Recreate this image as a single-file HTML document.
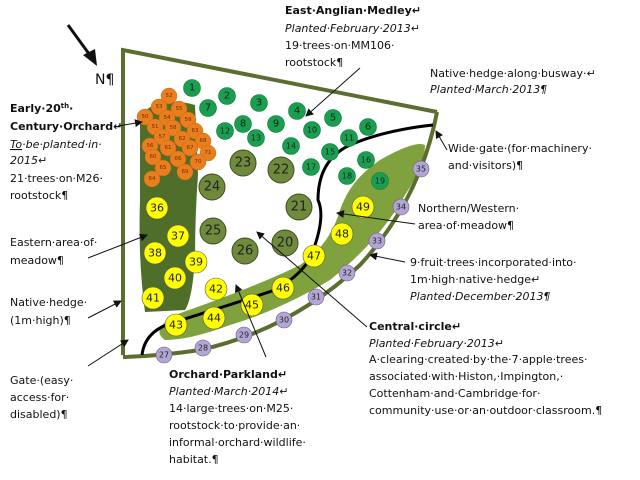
<!DOCTYPE html>
<html><head><meta charset="utf-8"><style>
html,body{margin:0;padding:0;background:#fff;}
svg{display:block;}
text{font-family:"DejaVu Sans","Liberation Sans",sans-serif;font-size:11px;fill:#111;}
.b{font-weight:bold;}
.i{font-style:italic;}
.n{font-size:11px;text-anchor:middle;dominant-baseline:central;fill:#222;}
.o{font-size:5.5px;text-anchor:middle;dominant-baseline:central;fill:#7a2a00;}
</style></head><body>
<svg width="640" height="480" viewBox="0 0 640 480" xmlns="http://www.w3.org/2000/svg">
<defs><marker id="a" markerWidth="8" markerHeight="8" refX="7" refY="4" orient="auto" markerUnits="userSpaceOnUse"><path d="M0,0 L8,4 L0,8 z" fill="#111"/></marker></defs>
<line x1="68" y1="25" x2="92" y2="58" stroke="#111" stroke-width="3"/>
<path d="M97,66 L83,55 L95,49 z" fill="#111"/>
<text x="95" y="84" style="font-size:14px">N¶</text>
<path d="M140,115 Q160,95 195,105 L198,175 Q195,215 195,260 Q192,300 185,310 L145,312 Q138,260 140,200 Z" fill="#4f6e2a"/>
<path d="M165,340 Q150,330 175,315 Q260,285 300,265 Q330,245 340,210 Q350,180 380,160 Q415,140 425,145 Q425,165 405,195 Q380,240 330,280 Q280,310 230,325 Q190,340 165,340 Z" fill="#7fa23e"/>
<path d="M123,355 L123,50 L437,112" fill="none" stroke="#5b6e2f" stroke-width="4"/>
<path d="M437,112 Q420,200 360,265 Q290,330 200,350 Q160,356 123,357" fill="none" stroke="#5b6e2f" stroke-width="4"/>
<path d="M142,355 Q145,330 175,322 Q230,305 275,290 Q310,270 315,245 Q325,215 318,200 Q318,160 350,145 Q385,130 433,125" fill="none" stroke="#000" stroke-width="3"/>
<g fill="#e87e1e" stroke="#d06810" stroke-width="0.5">
<circle cx="169" cy="96" r="8"/><circle cx="159" cy="107" r="8"/><circle cx="179" cy="109" r="8"/><circle cx="145" cy="117" r="8"/><circle cx="167" cy="118" r="8"/><circle cx="188" cy="120" r="8"/><circle cx="155" cy="127" r="8"/><circle cx="173" cy="128" r="8"/><circle cx="195" cy="131" r="8"/><circle cx="162" cy="137" r="8"/><circle cx="182" cy="139" r="8"/><circle cx="203" cy="141" r="8"/><circle cx="150" cy="146" r="8"/><circle cx="168" cy="148" r="8"/><circle cx="190" cy="148" r="8"/><circle cx="208" cy="153" r="8"/><circle cx="153" cy="157" r="8"/><circle cx="178" cy="159" r="8"/><circle cx="198" cy="162" r="8"/><circle cx="163" cy="168" r="8"/><circle cx="185" cy="172" r="8"/><circle cx="152" cy="179" r="8"/>
</g>
<g>
<text class="o" x="169" y="96">52</text><text class="o" x="159" y="107">53</text><text class="o" x="179" y="109">55</text><text class="o" x="145" y="117">50</text><text class="o" x="167" y="118">54</text><text class="o" x="188" y="120">59</text><text class="o" x="155" y="127">51</text><text class="o" x="173" y="128">58</text><text class="o" x="195" y="131">63</text><text class="o" x="162" y="137">57</text><text class="o" x="182" y="139">62</text><text class="o" x="203" y="141">68</text><text class="o" x="150" y="146">56</text><text class="o" x="168" y="148">61</text><text class="o" x="190" y="148">67</text><text class="o" x="208" y="153">71</text><text class="o" x="153" y="157">60</text><text class="o" x="178" y="159">66</text><text class="o" x="198" y="162">70</text><text class="o" x="163" y="168">65</text><text class="o" x="185" y="172">69</text><text class="o" x="152" y="179">64</text>
</g>
<g fill="#1a9e50" stroke="#0f7a3a" stroke-width="0.6">
<circle cx="192" cy="88" r="8.5"/><circle cx="227" cy="96" r="8.5"/><circle cx="208" cy="108" r="8.5"/><circle cx="259" cy="103" r="8.5"/><circle cx="243" cy="124" r="8.5"/><circle cx="225" cy="131" r="8.5"/><circle cx="297" cy="111" r="8.5"/><circle cx="276" cy="124" r="8.5"/><circle cx="256" cy="138" r="8.5"/><circle cx="333" cy="118" r="8.5"/><circle cx="312" cy="130" r="8.5"/><circle cx="291" cy="146" r="8.5"/><circle cx="368" cy="127" r="8.5"/><circle cx="349" cy="138" r="8.5"/><circle cx="330" cy="152" r="8.5"/><circle cx="311" cy="167" r="8.5"/><circle cx="366" cy="160" r="8.5"/><circle cx="347" cy="176" r="8.5"/><circle cx="380" cy="181" r="8.5"/>
</g>
<g>
<text class="n" x="192" y="88" style="font-size:10px">1</text><text class="n" x="227" y="96" style="font-size:10px">2</text><text class="n" x="208" y="108" style="font-size:10px">7</text><text class="n" x="259" y="103" style="font-size:10px">3</text><text class="n" x="243" y="124" style="font-size:10px">8</text><text class="n" x="225" y="131" style="font-size:8px">12</text><text class="n" x="297" y="111" style="font-size:10px">4</text><text class="n" x="276" y="124" style="font-size:10px">9</text><text class="n" x="256" y="138" style="font-size:8px">13</text><text class="n" x="333" y="118" style="font-size:10px">5</text><text class="n" x="312" y="130" style="font-size:8px">10</text><text class="n" x="291" y="146" style="font-size:8px">14</text><text class="n" x="368" y="127" style="font-size:10px">6</text><text class="n" x="349" y="138" style="font-size:8px">11</text><text class="n" x="330" y="152" style="font-size:8px">15</text><text class="n" x="311" y="167" style="font-size:8px">17</text><text class="n" x="366" y="160" style="font-size:8px">16</text><text class="n" x="347" y="176" style="font-size:8px">18</text><text class="n" x="380" y="181" style="font-size:8px">19</text>
</g>
<g fill="#6f8a3c" stroke="#3e5020" stroke-width="1">
<circle cx="243" cy="163" r="13"/><circle cx="281" cy="170" r="13"/><circle cx="212" cy="187" r="13"/><circle cx="299" cy="207" r="13"/><circle cx="213" cy="231" r="13"/><circle cx="245" cy="251" r="13"/><circle cx="285" cy="243" r="13"/>
</g>
<g>
<text class="n" x="243" y="163" style="font-size:13px">23</text><text class="n" x="281" y="170" style="font-size:13px">22</text><text class="n" x="212" y="187" style="font-size:13px">24</text><text class="n" x="299" y="207" style="font-size:13px">21</text><text class="n" x="213" y="231" style="font-size:13px">25</text><text class="n" x="245" y="251" style="font-size:13px">26</text><text class="n" x="285" y="243" style="font-size:13px">20</text>
</g>
<g fill="#ffff00" stroke="#555" stroke-width="0.6">
<circle cx="157" cy="208" r="11"/><circle cx="178" cy="236" r="11"/><circle cx="155" cy="253" r="11"/><circle cx="196" cy="262" r="11"/><circle cx="175" cy="278" r="11"/><circle cx="153" cy="298" r="11"/><circle cx="176" cy="325" r="11"/><circle cx="216" cy="289" r="11"/><circle cx="214" cy="318" r="11"/><circle cx="252" cy="305" r="11"/><circle cx="283" cy="288" r="11"/><circle cx="314" cy="256" r="11"/><circle cx="342" cy="234" r="11"/><circle cx="363" cy="207" r="11"/>
</g>
<g>
<text class="n" x="157" y="208">36</text><text class="n" x="178" y="236">37</text><text class="n" x="155" y="253">38</text><text class="n" x="196" y="262">39</text><text class="n" x="175" y="278">40</text><text class="n" x="153" y="298">41</text><text class="n" x="176" y="325">43</text><text class="n" x="216" y="289">42</text><text class="n" x="214" y="318">44</text><text class="n" x="252" y="305">45</text><text class="n" x="283" y="288">46</text><text class="n" x="314" y="256">47</text><text class="n" x="342" y="234">48</text><text class="n" x="363" y="207">49</text>
</g>
<g fill="#b4a6d4" stroke="#6a5a8a" stroke-width="0.6">
<circle cx="421" cy="169" r="8"/><circle cx="401" cy="207" r="8"/><circle cx="377" cy="241" r="8"/><circle cx="347" cy="273" r="8"/><circle cx="316" cy="297" r="8"/><circle cx="284" cy="320" r="8"/><circle cx="244" cy="335" r="8"/><circle cx="203" cy="348" r="8"/><circle cx="164" cy="355" r="8"/>
</g>
<g>
<text class="n" x="421" y="169" style="font-size:8px">35</text><text class="n" x="401" y="207" style="font-size:8px">34</text><text class="n" x="377" y="241" style="font-size:8px">33</text><text class="n" x="347" y="273" style="font-size:8px">32</text><text class="n" x="316" y="297" style="font-size:8px">31</text><text class="n" x="284" y="320" style="font-size:8px">30</text><text class="n" x="244" y="335" style="font-size:8px">29</text><text class="n" x="203" y="348" style="font-size:8px">28</text><text class="n" x="164" y="355" style="font-size:8px">27</text>
</g>
<g stroke="#111" stroke-width="1" fill="none" marker-end="url(#a)">
<line x1="360" y1="68" x2="306" y2="116"/>
<line x1="118" y1="126" x2="142" y2="122"/>
<line x1="88" y1="258" x2="147" y2="235"/>
<line x1="88" y1="318" x2="121" y2="301"/>
<line x1="88" y1="366" x2="128" y2="340"/>
<line x1="447" y1="150" x2="436" y2="131"/>
<line x1="415" y1="224" x2="337" y2="213"/>
<line x1="405" y1="262" x2="370" y2="255"/>
<line x1="367" y1="327" x2="257" y2="232"/>
<line x1="266" y1="357" x2="236" y2="285"/>
</g>
<text class="b" x="285" y="14">East·Anglian·Medley↵</text>
<text class="i" x="285" y="32">Planted·February·2013↵</text>
<text x="285" y="49">19·trees·on·MM106·</text>
<text x="285" y="66">rootstock¶</text>
<text class="b" x="10" y="112">Early·20<tspan style="font-size:7px" dy="-4">th</tspan><tspan dy="4">·</tspan></text>
<text class="b" x="10" y="130">Century·Orchard↵</text>
<text class="i" x="10" y="148"><tspan text-decoration="underline">To</tspan>·be·planted·in·</text>
<text class="i" x="10" y="164">2015↵</text>
<text x="10" y="182">21·trees·on·M26·</text>
<text x="10" y="199">rootstock¶</text>
<text x="10" y="246">Eastern·area·of·</text>
<text x="10" y="264">meadow¶</text>
<text x="10" y="306">Native·hedge·</text>
<text x="10" y="324">(1m·high)¶</text>
<text x="10" y="384">Gate·(easy·</text>
<text x="10" y="401">access·for·</text>
<text x="10" y="418">disabled)¶</text>
<text x="430" y="77">Native·hedge·along·busway·↵</text>
<text class="i" x="430" y="93">Planted·March·2013¶</text>
<text x="448" y="152">Wide·gate·(for·machinery·</text>
<text x="448" y="169">and·visitors)¶</text>
<text x="418" y="212">Northern/Western·</text>
<text x="418" y="229">area·of·meadow¶</text>
<text x="410" y="266">9·fruit·trees·incorporated·into·</text>
<text x="410" y="283">1m·high·native·hedge↵</text>
<text class="i" x="410" y="300">Planted·December·2013¶</text>
<text class="b" x="369" y="330">Central·circle↵</text>
<text class="i" x="369" y="347">Planted·February·2013↵</text>
<text x="369" y="363">A·clearing·created·by·the·7·apple·trees·</text>
<text x="369" y="380">associated·with·Histon,·Impington,·</text>
<text x="369" y="397">Cottenham·and·Cambridge·for·</text>
<text x="369" y="414">community·use·or·an·outdoor·classroom.¶</text>
<text class="b" x="169" y="378">Orchard·Parkland↵</text>
<text class="i" x="169" y="395">Planted·March·2014↵</text>
<text x="169" y="412">14·large·trees·on·M25·</text>
<text x="169" y="429">rootstock·to·provide·an·</text>
<text x="169" y="446">informal·orchard·wildlife·</text>
<text x="169" y="463">habitat.¶</text>
</svg>
</body></html>
